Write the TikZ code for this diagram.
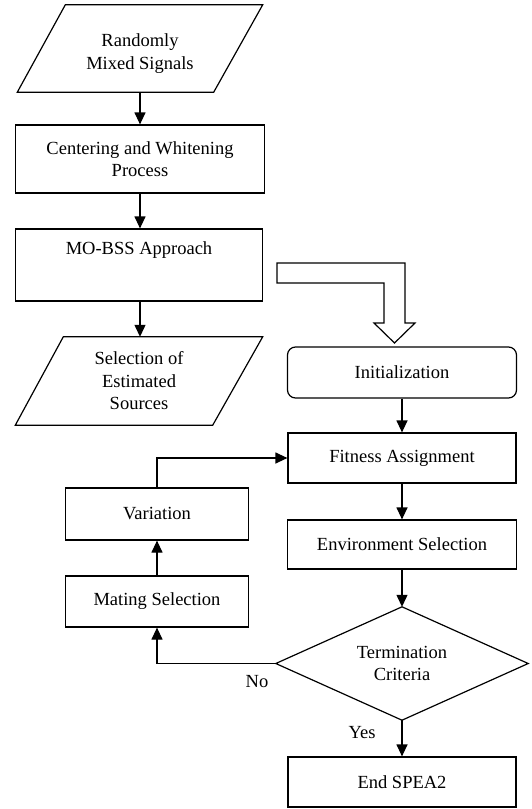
\documentclass[tikz,border=0pt]{standalone}
\usepackage{fontspec}
\setmainfont{Liberation Serif}
\usetikzlibrary{arrows.meta,calc}
\begin{document}
\begin{tikzpicture}[x=1pt,y=-1pt,
  every node/.style={font=\fontsize{18.5pt}{22.5pt}\selectfont, align=center, inner sep=0pt},
  blk/.style={draw, line width=1.2pt, rectangle},
  ghost/.style={rectangle, draw=none},
  ln/.style={line width=1.2pt, line join=miter},
  arr/.style={-{Stealth[length=12pt,width=11pt,inset=0pt]}, line width=1.2pt}]
\useasboundingbox (0,0) rectangle (531,809);

% left column
\node[ghost, minimum width=245pt, minimum height=87pt, yshift=-5pt] (in) at (140,48.5) {Randomly\\Mixed Signals};
\draw[ln] ($(in.north west)+(48,-5)$) -- ($(in.north east)+(0,-5)$) -- ($(in.south east)+(-49,-5)$) -- ($(in.south west)+(0,-5)$) -- cycle;

\node[blk, minimum width=249pt, minimum height=68pt] (cw) at (140,159) {Centering and Whitening\\Process};
\node[blk, minimum width=247pt, minimum height=72pt] (mo) at (139,265) {};
\node (motext) at (139,250) {MO-BSS Approach};

\node[ghost, minimum width=247pt, minimum height=88pt] (sel) at (139,381) {Selection of\\Estimated\\Sources};
\draw[ln] ($(sel.north west)+(48,0)$) -- (sel.north east) -- ($(sel.south east)+(-50,0)$) -- (sel.south west) -- cycle;

\draw[arr] ($(in.south)+(0,-5)$) -- (in.south |- cw.north);
\draw[arr] (cw.south) -- (cw.south |- mo.north);
\draw[arr] (cw.south |- mo.south) -- (cw.south |- sel.north);

% block arrow
\draw[ln] (277,263) -- (405,263) -- (405,323) -- (415,323) -- (394.5,343) -- (374,323) -- (384,323) -- (384,283) -- (277,283) -- cycle;

% right column
\node[blk, rounded corners=8pt, minimum width=229pt, minimum height=51pt] (init) at (402,372.5) {Initialization};
\node[blk, minimum width=228pt, minimum height=50pt] (fit) at (402,458) {Fitness Assignment};
\node[blk, minimum width=229pt, minimum height=49pt] (env) at (402,544.5) {Environment Selection};
\node[ghost, minimum width=252pt, minimum height=113pt] (term) at (402,663.5) {Termination\\Criteria};
\draw[ln] (term.north) -- (term.east) -- (term.south) -- (term.west) -- cycle;
\node[blk, minimum width=228pt, minimum height=50pt] (end) at (402,782) {End SPEA2};

% loop
\node[blk, minimum width=183pt, minimum height=52pt] (var) at (157,514) {Variation};
\node[blk, minimum width=183pt, minimum height=51pt] (mat) at (157,601.5) {Mating Selection};

\draw[arr] (init.south) -- (init.south |- fit.north);
\draw[arr] (fit.south) -- (fit.south |- env.north);
\draw[arr] (env.south) -- (env.south |- term.north);
\draw[arr] (term.south) -- (term.south |- end.north);
\node (yes) at (362,733) {Yes};
\draw[arr] (term.west) -| (mat.south);
\node (no) at (257,682) {No};
\draw[arr] (mat.north) -- (var.south);
\draw[arr] (var.north) |- (fit.west);
\end{tikzpicture}
\end{document}
